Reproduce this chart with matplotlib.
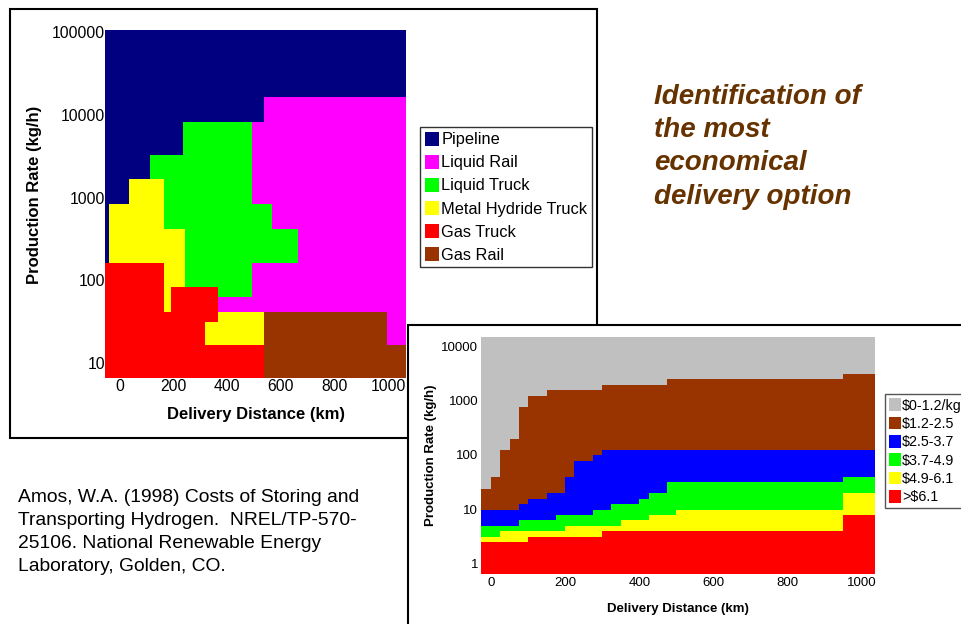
import matplotlib.pyplot as plt
import numpy as np
from matplotlib.colors import ListedColormap
from matplotlib.patches import Patch, Rectangle

plt.rcParams['font.family'] = ['Liberation Sans', 'DejaVu Sans']

W, H = 961, 624

# ---- upper chart: cheapest delivery option on a distance x rate grid ----
options = ["Pipeline", "Liquid Rail", "Liquid Truck", "Metal Hydride Truck",
           "Gas Truck", "Gas Rail"]
option_colors = ["#000080", "#FF00FF", "#00FF00", "#FFFF00", "#FF0000", "#993300"]

dist_edges = [-56, -41, 34, 112, 164, 190, 235, 243, 317, 366, 493, 537, 567,
              664, 996, 1067]
rate_edges = [6.6, 16.5, 31, 41, 63, 83, 161, 416, 841, 1675, 3270, 8170,
              16400, 105700]
# option index per cell, rows listed from the top (highest rate) down
best_option = [
    [0, 0, 0, 0, 0, 0, 0, 0, 0, 0, 0, 0, 0, 0, 0],
    [0, 0, 0, 0, 0, 0, 0, 0, 0, 0, 0, 1, 1, 1, 1],
    [0, 0, 0, 0, 0, 0, 2, 2, 2, 2, 1, 1, 1, 1, 1],
    [0, 0, 0, 2, 2, 2, 2, 2, 2, 2, 1, 1, 1, 1, 1],
    [0, 0, 3, 3, 2, 2, 2, 2, 2, 2, 1, 1, 1, 1, 1],
    [0, 3, 3, 3, 2, 2, 2, 2, 2, 2, 2, 2, 1, 1, 1],
    [0, 3, 3, 3, 3, 3, 3, 2, 2, 2, 2, 2, 2, 1, 1],
    [4, 4, 4, 4, 3, 3, 3, 2, 2, 2, 1, 1, 1, 1, 1],
    [4, 4, 4, 4, 3, 4, 4, 4, 4, 2, 1, 1, 1, 1, 1],
    [4, 4, 4, 4, 3, 4, 4, 4, 4, 1, 1, 1, 1, 1, 1],
    [4, 4, 4, 4, 4, 4, 4, 4, 4, 3, 3, 5, 5, 5, 1],
    [4, 4, 4, 4, 4, 4, 4, 4, 3, 3, 3, 5, 5, 5, 1],
    [4, 4, 4, 4, 4, 4, 4, 4, 4, 4, 4, 5, 5, 5, 5],
]

# ---- lower chart: cost bands, upper boundary of each band per distance step ----
cost_labels = [r"\$0-1.2/kg", r"\$1.2-2.5", r"\$2.5-3.7", r"\$3.7-4.9",
               r"\$4.9-6.1", r">\$6.1"]
cost_colors = ["#C0C0C0", "#993300", "#0000FF", "#00FF00", "#FFFF00", "#FF0000"]

step_edges = [-27, 0, 25, 50, 75, 100, 150, 175, 200, 225, 275, 300, 325, 350,
              400, 425, 475, 500, 950, 1036]
top_red = [2.5] * 5 + [3.05] * 6 + [3.9] * 7 + [7.8]
top_yellow = [3.05] * 2 + [3.9] * 6 + [4.9] * 5 + [6.3] * 2 + [7.8] * 2 + [9.6, 19.7]
top_green = [4.9] * 4 + [6.3] * 3 + [7.8] * 3 + [9.6] * 2 + [12.4] * 2 + [15.3, 19.7, 31, 31, 39]
top_blue = [9.6] * 4 + [12.4, 15.3, 19.7, 19.7, 39, 76, 99] + [124] * 8
top_brown = [24, 39, 122, 194, 754, 1200] + [1550] * 5 + [1915] * 5 + [2470] * 2 + [3100]
rate_min_b, rate_max_b = 0.64, 14800

fig = plt.figure(figsize=(W / 100, H / 100), dpi=100)


def fig_box(x0, y0, x1, y1):
    return [x0 / W, 1 - y1 / H, (x1 - x0) / W, (y1 - y0) / H]


# outer frames
fig.add_artist(Rectangle((10 / W, 1 - 438 / H), 587 / W, 429 / H,
                         transform=fig.transFigure, facecolor="white",
                         edgecolor="black", lw=1.5, zorder=1))
fig.add_artist(Rectangle((408 / W, -0.05), 0.6, 1 - 325 / H + 0.05,
                         transform=fig.transFigure, facecolor="white",
                         edgecolor="black", lw=1.5, zorder=3))

# upper chart
ax1 = fig.add_axes(fig_box(105, 30, 406, 378), zorder=2)
grid = np.array(best_option)[::-1]
ax1.pcolormesh(dist_edges, rate_edges, grid, cmap=ListedColormap(option_colors),
               vmin=-0.5, vmax=len(options) - 0.5, shading="flat")
ax1.set_yscale("log")
ax1.set_xlim(dist_edges[0], dist_edges[-1])
ax1.set_ylim(rate_edges[0], rate_edges[-1])
ax1.set_yticks([10, 100, 1000, 10000, 100000],
               labels=["10", "100", "1000", "10000", "100000"])
ax1.set_xticks([0, 200, 400, 600, 800, 1000])
ax1.minorticks_off()
ax1.tick_params(length=0, labelsize=11.3, pad=1)
ax1.tick_params(axis="y", pad=0)
for s in ax1.spines.values():
    s.set_visible(False)
ax1.set_xlabel("Delivery Distance (km)", fontsize=12, fontweight="bold", labelpad=9)
ax1.set_ylabel("Production Rate (kg/h)", fontsize=12, fontweight="bold")
ax1.yaxis.set_label_coords(-0.21, 0.525)
h1 = [Patch(facecolor=c, edgecolor="none") for c in option_colors]
ax1.legend(h1, options, loc="upper left", bbox_to_anchor=(420 / W, 1 - 127 / H),
           bbox_transform=fig.transFigure, borderaxespad=0, fontsize=11.8,
           fancybox=False, edgecolor="#333333", framealpha=1,
           handlelength=0.9, handleheight=0.95, handletextpad=0.12,
           labelspacing=0.45, borderpad=0.28)

# lower chart
ax2 = fig.add_axes(fig_box(481, 337, 875, 574), zorder=4)
bounds = [[rate_min_b] * len(top_red), top_red, top_yellow, top_green, top_blue,
          top_brown, [rate_max_b] * len(top_red)]
band_colors = cost_colors[::-1]
for i in range(6):
    ax2.stairs(bounds[i + 1], step_edges, baseline=bounds[i], fill=True,
               color=band_colors[i], lw=0)
ax2.set_yscale("log")
ax2.set_xlim(step_edges[0], step_edges[-1])
ax2.set_ylim(rate_min_b, rate_max_b)
ax2.set_yticks([1, 10, 100, 1000, 10000],
               labels=["1", "10", "100", "1000", "10000"])
ax2.set_xticks([0, 200, 400, 600, 800, 1000])
ax2.minorticks_off()
ax2.tick_params(length=0, labelsize=9.5, pad=2)
for s in ax2.spines.values():
    s.set_visible(False)
ax2.set_xlabel("Delivery Distance (km)", fontsize=9.5, fontweight="bold", labelpad=10)
ax2.set_ylabel("Production Rate (kg/h)", fontsize=9.5, fontweight="bold", labelpad=3)
h2 = [Patch(facecolor=c, edgecolor="none") for c in cost_colors]
ax2.legend(h2, cost_labels, loc="upper left", bbox_to_anchor=(885 / W, 1 - 394 / H),
           bbox_transform=fig.transFigure, borderaxespad=0, fontsize=10.3,
           fancybox=False, edgecolor="#555555", framealpha=1,
           handlelength=0.85, handleheight=1.0, handletextpad=0.05,
           labelspacing=0.28, borderpad=0.3)

# texts
fig.text(654 / W, 1 - 84 / H, "Identification of\nthe most\neconomical\ndelivery option",
         ha="left", va="top", fontsize=20, fontweight="bold", fontstyle="italic",
         color="#663300", linespacing=1.36, zorder=5)
fig.text(18 / W, 1 - 489 / H,
         "Amos, W.A. (1998) Costs of Storing and\nTransporting Hydrogen.  NREL/TP-570-\n"
         "25106. National Renewable Energy\nLaboratory, Golden, CO.",
         ha="left", va="top", fontsize=13.9, color="black", linespacing=1.47, zorder=5)

fig.savefig("out.png", dpi=100)
